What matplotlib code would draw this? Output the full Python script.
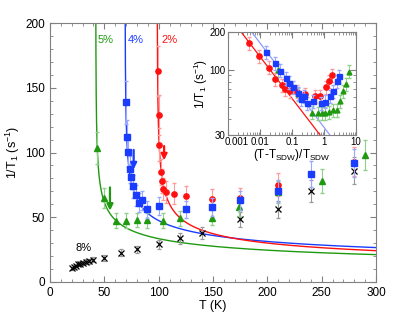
import matplotlib
matplotlib.use('Agg')
import matplotlib.pyplot as plt
import numpy as np

plt.rcParams['font.family'] = ['Liberation Sans', 'DejaVu Sans']
plt.rcParams['mathtext.fontset'] = 'custom'
plt.rcParams['mathtext.rm'] = 'Liberation Sans'
plt.rcParams['mathtext.it'] = 'Liberation Sans'

# main panel data: T (K) vs 1/T1 (s^-1)
T_2 = [99, 100, 100.5, 102, 103, 104, 107, 114, 125, 149, 175, 210, 280]
r_2 = [163, 129, 106, 85, 78, 72, 69.5, 68, 66, 64, 65, 75, 93]

T_4 = [69.6, 70.5, 71.5, 73.6, 74.5, 76.6, 79, 82, 84.4, 89.5, 100, 125, 149, 175, 210, 240, 280]
r_4 = [139, 112, 100.5, 87, 81.4, 74, 67, 61, 63, 56, 58.6, 56, 57.7, 63, 70, 83.5, 92]

T_5 = [43.5, 49.7, 60.4, 69.6, 79.7, 89.5, 104, 119.6, 149.3, 174, 210, 250, 290]
r_5 = [103.4, 65, 47.3, 47.3, 47.8, 47.6, 47.3, 49, 49.6, 58, 69.5, 78, 98]

T_8 = [20, 22, 24, 26, 28, 30, 33, 36, 40, 50, 65, 80, 100, 120, 140, 175, 210, 240, 280]
r_8 = [10.5, 11.5, 12.5, 13.5, 14, 14.5, 15.5, 16, 17, 18.5, 22.5, 25, 29, 33.5, 38, 48.4, 56, 70.5, 86]

err_frac = 0.12

# power law fits 1/T1 = A * ((T - Tsdw)/Tsdw)^(-n)
fit_2 = dict(Tc=98.5, A=30.2, n=0.32)
fit_4 = dict(Tc=69.0, A=37.5, n=0.29)
fit_5 = dict(Tc=42.0, A=36.8, n=0.31)

# inset data: reduced temperature vs 1/T1
x_in_2 = [0.00464, 0.0095, 0.0195, 0.0301, 0.0487, 0.0591, 0.0885, 0.1486, 0.26, 0.523, 0.75, 1.13, 1.43, 1.82]
r_in_2 = [162.4, 128.5, 104, 83.4, 75.8, 70, 67.5, 66.8, 63.5, 61.2, 61.3, 72.6, 81.1, 90.2]

x_in_4 = [0.0151, 0.0294, 0.0437, 0.065, 0.0835, 0.111, 0.157, 0.191, 0.229, 0.30, 0.443, 0.789, 1.075, 1.54, 1.95, 2.49, 3.0]
r_in_4 = [138.4, 112, 98.4, 85.7, 78.9, 72, 65, 58.5, 61, 54.1, 56.3, 54.3, 55.6, 61.2, 67.8, 81.5, 89.4]

x_in_5 = [0.0373, 0.1596, 0.413, 0.636, 0.847, 1.075, 1.466, 1.87, 2.49, 3.16, 3.84, 4.87, 6.04]
r_in_5 = [99.7, 63.8, 45.4, 45, 45, 45, 45.8, 47.8, 47.8, 56.4, 67.8, 76.7, 96.6]

inset_fit_2 = dict(A=27.3, n=0.334)
inset_fit_4 = dict(A=34.6, n=0.337)

RED = '#ff1010'
BLUE = '#1a3cff'
GREEN = '#1f9a10'
RED_E = '#ff9a9a'
BLUE_E = '#9aa8ff'
GREEN_E = '#8fd08a'
GRAY_E = '#999999'
FRAME = '#808080'


def err(v):
    return [x * err_frac for x in v]


def fit_curve(p, T):
    return p['A'] * ((T - p['Tc']) / p['Tc']) ** (-p['n'])


def style_axes(ax, fs):
    for s in ax.spines.values():
        s.set_color(FRAME)
        s.set_linewidth(0.8)
    ax.tick_params(which='both', direction='in', top=True, right=True,
                   color=FRAME, labelsize=fs)
    ax.tick_params(which='major', length=4, width=0.8)
    ax.tick_params(which='minor', length=2, width=0.6)


fig = plt.figure(figsize=(4.15, 3.21), dpi=100)
ax = fig.add_axes([0.1205, 0.1224, 0.7855, 0.805])

for p, c in [(fit_5, GREEN), (fit_4, BLUE), (fit_2, RED)]:
    T = np.linspace(p['Tc'] + 1e-4, 300, 3000)
    ax.plot(T, fit_curve(p, T), color=c, lw=1.0, zorder=2)

ax.errorbar(T_8, r_8, yerr=err(r_8), fmt='x', color='black', ms=4.5, mew=0.9,
            ecolor=GRAY_E, elinewidth=0.8, capsize=1.5, zorder=3)
ax.errorbar(T_5, r_5, yerr=err(r_5), fmt='^', color=GREEN, ms=4.5,
            ecolor=GREEN_E, elinewidth=0.8, capsize=1.5, zorder=4)
ax.errorbar(T_4, r_4, yerr=err(r_4), fmt='s', color=BLUE, ms=4.2,
            ecolor=BLUE_E, elinewidth=0.8, capsize=1.5, zorder=5)
ax.errorbar(T_2, r_2, yerr=err(r_2), fmt='o', color=RED, ms=3.8,
            ecolor=RED_E, elinewidth=0.8, capsize=1.5, zorder=4)

# transition arrows
for x, y0, y1, c in [(105, 105, 94, RED), (77, 102, 87, BLUE), (55.2, 73, 55, GREEN)]:
    ax.annotate('', xy=(x, y1), xytext=(x, y0),
                arrowprops=dict(arrowstyle='-|>', color=c, lw=1.6,
                                mutation_scale=9, shrinkA=0, shrinkB=0), zorder=6)

ax.text(51.5, 187, '5%', color=GREEN, fontsize=8, ha='center', va='center')
ax.text(79, 187, '4%', color=BLUE, fontsize=8, ha='center', va='center')
ax.text(110, 187, '2%', color=RED, fontsize=8, ha='center', va='center')
ax.text(30.5, 26, '8%', color='black', fontsize=8, ha='center', va='center')

ax.set_xlim(0, 300)
ax.set_ylim(0, 200)
ax.set_xticks(np.arange(0, 301, 50))
ax.set_xticks(np.arange(0, 301, 10), minor=True)
ax.set_yticks(np.arange(0, 201, 50))
ax.set_yticks(np.arange(0, 201, 10), minor=True)
style_axes(ax, 8.5)
ax.set_xlabel('T (K)', fontsize=9, labelpad=1)
ax.set_ylabel('1/T$_1$ (s$^{-1}$)', fontsize=9, labelpad=2)

# inset
axi = fig.add_axes([0.5494, 0.5794, 0.3084, 0.3209])
xl = np.logspace(-3, 1, 200)
axi.plot(xl, inset_fit_2['A'] * xl ** (-inset_fit_2['n']), color=RED, lw=0.9, zorder=2)
axi.plot(xl, inset_fit_4['A'] * xl ** (-inset_fit_4['n']), color='#8c9cff', lw=0.9, zorder=2)
axi.errorbar(x_in_5, r_in_5, yerr=err(r_in_5), fmt='^', color=GREEN, ms=3.5,
             ecolor=GREEN_E, elinewidth=0.7, capsize=1.2, zorder=3)
axi.errorbar(x_in_4, r_in_4, yerr=err(r_in_4), fmt='s', color=BLUE, ms=3.6,
             ecolor=BLUE_E, elinewidth=0.7, capsize=1.2, zorder=4)
axi.errorbar(x_in_2, r_in_2, yerr=err(r_in_2), fmt='o', color=RED, ms=3.8,
             ecolor=RED_E, elinewidth=0.7, capsize=1.2, zorder=3)
axi.set_xscale('log')
axi.set_yscale('log')
axi.set_xlim(0.001, 10)
axi.set_ylim(30, 200)
axi.set_xticks([0.001, 0.01, 0.1, 1, 10])
axi.set_xticklabels(['', '0.01', '0.1', '1', '10'])
axi.set_yticks([30, 100, 200])
axi.set_yticklabels(['30', '100', '200'])
axi.yaxis.set_minor_locator(matplotlib.ticker.LogLocator(base=10, subs=np.arange(2, 10)))
axi.yaxis.set_minor_formatter(matplotlib.ticker.NullFormatter())
style_axes(axi, 7)
axi.tick_params(axis='both', pad=1.5)
# first tick label sits right of its tick, as in the original
axi.annotate('0.001', xy=(0.001, 0), xycoords=('data', 'axes fraction'),
             xytext=(6.5, -1.5), textcoords='offset points',
             ha='center', va='top', fontsize=7)
axi.set_xlabel('(T-T$_{\\mathrm{SDW}}$)/T$_{\\mathrm{SDW}}$', fontsize=8.5, labelpad=0)
axi.set_ylabel('1/T$_1$ (s$^{-1}$)', fontsize=8.5, labelpad=0)

fig.savefig('out.png', dpi=100)
